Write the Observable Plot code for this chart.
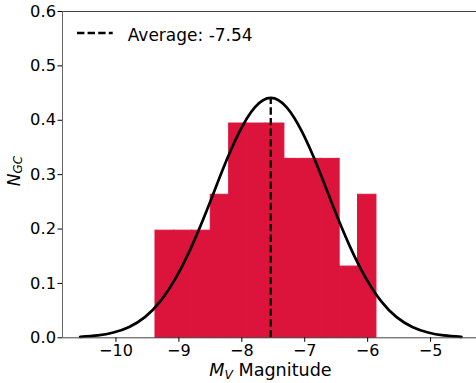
<!DOCTYPE html>
<html><head><meta charset="utf-8">
<script src="https://cdn.jsdelivr.net/npm/d3@7"></script>
<script src="https://cdn.jsdelivr.net/npm/@observablehq/plot@0.6"></script>
<style>body{margin:0;background:#fff;} #chart{width:476px;height:383px;}</style>
</head><body><div id="chart"></div>
<script>
// Histogram (density) of M_V magnitudes
const binEdges = [-9.372, -9.079, -8.787, -8.494, -8.201, -7.909, -7.616, -7.323, -7.031, -6.738, -6.445, -6.153, -5.860];
const binDensity = [0.197, 0.197, 0.197, 0.263, 0.394, 0.394, 0.394, 0.329, 0.329, 0.329, 0.131, 0.263];
// Fitted curve
const curveX = [-10.57, -10.29, -10.04, -9.79, -9.54, -9.29, -9.04, -8.79, -8.54, -8.29, -8.04, -7.79, -7.54, -7.29, -7.04, -6.79, -6.54, -6.29, -6.04, -5.79, -5.54, -5.29, -5.04, -4.79, -4.51];
const curveY = [0.0016, 0.0044, 0.0097, 0.020, 0.038, 0.068, 0.112, 0.170, 0.239, 0.313, 0.378, 0.424, 0.441, 0.424, 0.378, 0.313, 0.239, 0.170, 0.112, 0.068, 0.038, 0.020, 0.0097, 0.0044, 0.0016];
const average = -7.54;
const averagePeak = 0.441;
const legendLabel = "Average: -7.54";
const xTicks = [-10, -9, -8, -7, -6, -5];
const yTicks = [0, 0.1, 0.2, 0.3, 0.4, 0.5, 0.6];
const xDomain = [-10.85, -4.27];
const yDomain = [0, 0.6];

const bins = binDensity.map((d, i) => ({x1: binEdges[i], x2: binEdges[i + 1], y1: 0, y2: d}));
const curve = curveX.map((x, i) => ({x, y: curveY[i]}));
const avgRule = [{x: average, y1: 0, y2: averagePeak}];
const fmtX = d => (d < 0 ? "\u2212" : "") + Math.abs(d);

const plot = Plot.plot({
  width: 476, height: 383,
  marginLeft: 62, marginRight: 0, marginTop: 11, marginBottom: 45.7,
  x: {domain: xDomain},
  y: {domain: yDomain},
  style: {fontFamily: "DejaVu Sans", fontSize: "16px", color: "black", background: "white"},
  marks: [
    Plot.rect(bins, {x1: "x1", x2: "x2", y1: "y1", y2: "y2", fill: "#DC143C", stroke: "#DC143C", strokeWidth: 1}),
    Plot.line(curve, {x: "x", y: "y", stroke: "black", strokeWidth: 2.7, curve: "natural"}),
    Plot.ruleX(avgRule, {x: "x", y1: "y1", y2: "y2", stroke: "black", strokeWidth: 2.3, strokeDasharray: "7.4,3.2"}),
    Plot.ruleY([yDomain[0], yDomain[1]], {stroke: "#444", strokeWidth: 1}),
    Plot.ruleX([xDomain[0]], {stroke: "#666", strokeWidth: 1}),
    Plot.axisX({ticks: xTicks, tickSize: 4.5, tickPadding: 2.3, tickFormat: fmtX, label: null, fontSize: 16}),
    Plot.axisY({ticks: yTicks, tickSize: 4.5, tickPadding: 2, tickFormat: d3.format(".1f"), label: null, fontSize: 16.3})
  ]
});
document.getElementById("chart").appendChild(plot);

const svg = d3.select(plot);
// x label: M_V Magnitude
const xl = svg.append("text").attr("x", 270.5).attr("y", 376).attr("text-anchor", "middle")
  .attr("font-size", 17.6).attr("fill", "black");
xl.append("tspan").attr("font-style", "italic").text("M");
xl.append("tspan").attr("font-style", "italic").attr("font-size", 12.3).attr("dy", 2.7).text("V");
xl.append("tspan").attr("dy", -2.7).text(" Magnitude");
// y label: N_GC
const yl = svg.append("text").attr("transform", "translate(19.5,171) rotate(-90)").attr("text-anchor", "middle")
  .attr("font-size", 17).attr("fill", "black");
yl.append("tspan").attr("font-style", "italic").text("N");
yl.append("tspan").attr("font-style", "italic").attr("font-size", 11.9).attr("dy", 2.8).text("GC");
// legend
svg.append("line").attr("x1", 77).attr("x2", 112.7).attr("y1", 33).attr("y2", 33)
  .attr("stroke", "black").attr("stroke-width", 2.3).attr("stroke-dasharray", "7.4,3.2");
svg.append("text").attr("x", 127.7).attr("y", 40.7).attr("text-anchor", "start")
  .attr("font-size", 17).attr("fill", "black").text(legendLabel);
</script>
</body></html>
